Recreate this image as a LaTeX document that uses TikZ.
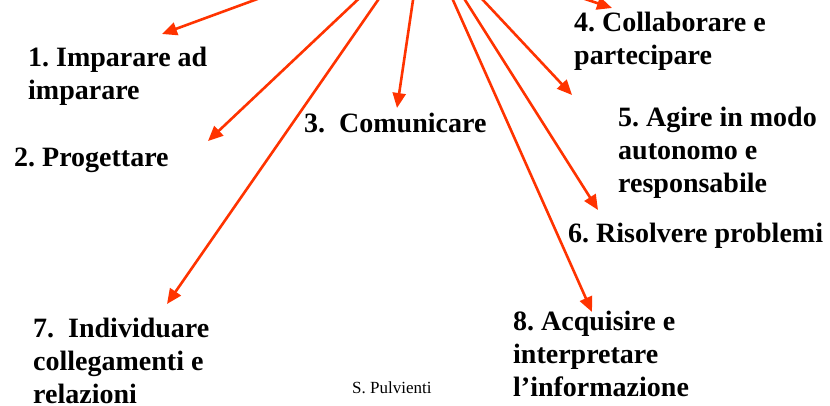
\documentclass[tikz,border=0pt]{standalone}
\usepackage{fontspec}
\setmainfont{Liberation Serif}
\usetikzlibrary{arrows.meta}
\definecolor{arrowred}{RGB}{255,51,0}
\tikzset{
  item/.style={inner sep=0pt, anchor=base west, align=left,
    font=\fontsize{28}{33}\selectfont\bfseries\frenchspacing},
  credit/.style={inner sep=0pt, anchor=base west,
    font=\fontsize{17}{20}\selectfont\frenchspacing},
  link/.style={draw=arrowred, line width=2.6pt,
    -{Triangle[length=15pt,width=13pt]}}
}
\begin{document}
\begin{tikzpicture}[x=1pt,y=-1pt]
\useasboundingbox (0,0) rectangle (830,406);
\clip (0,0) rectangle (830,406);
% texts (anchor = baseline of the last line)
\node[item] (t1) at (28,100) {1. Imparare ad\\imparare};
\node[item] (t2) at (14,167) {2. Progettare};
\node[item] (t3) at (304,133) {3.\ \ Comunicare};
\node[item] (t4) at (574,65) {4. Collaborare e\\partecipare};
\node[item] (t5) at (618,193) {5. Agire in modo\\autonomo e\\responsabile};
\node[item] (t6) at (568,243) {6. Risolvere problemi};
\node[item] (t7) at (33,403) {7.\ \ Individuare\\collegamenti e\\relazioni};
\node[item] (t8) at (513,396) {8. Acquisire e\\interpretare\\l’informazione};
\node[credit] (cr) at (352,393) {S. Pulvienti};
% arrow start points (outside the top edge)
\coordinate (s1) at (282,-10);
\coordinate (s2) at (368,-10);
\coordinate (s7) at (385,-10);
\coordinate (s3) at (414.5,-10);
\coordinate (s8) at (448.5,-10);
\coordinate (s6) at (458.7,-10);
\coordinate (s5) at (473.6,-10);
\coordinate (s4) at (576,-4);
% arrow tips
\coordinate (e1) at (162,34);
\coordinate (e2) at (208,141);
\coordinate (e7) at (167,304);
\coordinate (e3) at (397,108);
\coordinate (e8) at (592,312);
\coordinate (e6) at (598,210);
\coordinate (e5) at (572,95);
\coordinate (e4) at (612,8);
% arrows
\draw[link] (s1) -- (e1);
\draw[link] (s2) -- (e2);
\draw[link] (s7) -- (e7);
\draw[link] (s3) -- (e3);
\draw[link] (s8) -- (e8);
\draw[link] (s6) -- (e6);
\draw[link] (s5) -- (e5);
\draw[link] (s4) -- (e4);
\end{tikzpicture}
\end{document}
